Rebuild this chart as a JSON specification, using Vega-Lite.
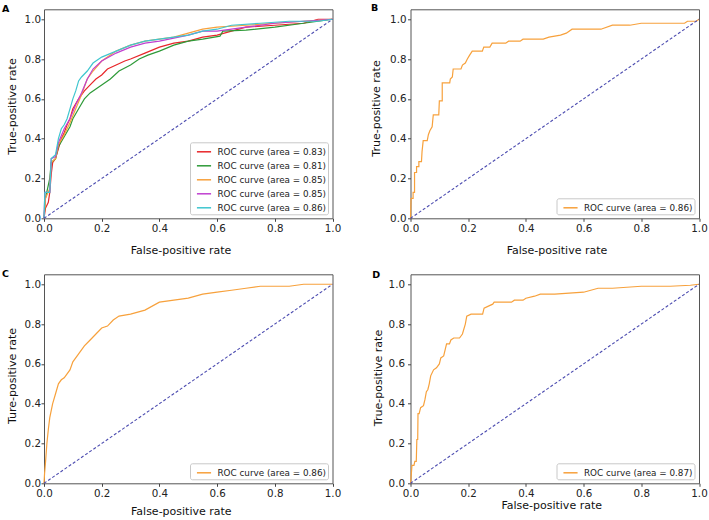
{
  "$schema": "https://vega.github.io/schema/vega-lite/v6.json",
  "autosize": {"type": "none"},
  "padding": {"left": 44, "top": 9.3, "right": 665, "bottom": 510.7},
  "background": "white",
  "config": {
    "font": "DejaVu Sans",
    "view": {"stroke": "#555555", "strokeWidth": 1},
    "axis": {"domain": false, "grid": false, "tickColor": "#444444", "tickSize": 3, "labelFont": "DejaVu Sans", "labelFontSize": 10.3, "labelColor": "#222222", "titleFont": "DejaVu Sans", "titleFontSize": 11, "titleFontWeight": "normal", "titleColor": "#111111", "labelFlush": false},
    "legend": {"orient": "bottom-right", "offset": 4.5, "fillColor": "white", "strokeColor": "#c8c8c8", "cornerRadius": 2, "padding": 1.5, "rowPadding": 1, "symbolSize": 200, "symbolType": "stroke", "symbolStrokeWidth": 1.5, "symbolOffset": 4.5, "labelOffset": 5.5, "labelFont": "DejaVu Sans", "labelFontSize": 8.8, "labelColor": "#222222", "labelLimit": 300}
  },
  "datasets": {
    "diag": [{"fpr": 0, "tpr": 0}, {"fpr": 1, "tpr": 1}],
    "a": [
      {"id": "1", "fpr": 0, "tpr": 0}, {"id": "1", "fpr": 0.005, "tpr": 0.05}, {"id": "1", "fpr": 0.015, "tpr": 0.08}, {"id": "1", "fpr": 0.02, "tpr": 0.13}, {"id": "1", "fpr": 0.025, "tpr": 0.22}, {"id": "1", "fpr": 0.03, "tpr": 0.28}, {"id": "1", "fpr": 0.04, "tpr": 0.3}, {"id": "1", "fpr": 0.05, "tpr": 0.35}, {"id": "1", "fpr": 0.06, "tpr": 0.4}, {"id": "1", "fpr": 0.07, "tpr": 0.43}, {"id": "1", "fpr": 0.08, "tpr": 0.47}, {"id": "1", "fpr": 0.09, "tpr": 0.5}, {"id": "1", "fpr": 0.1, "tpr": 0.55}, {"id": "1", "fpr": 0.12, "tpr": 0.6}, {"id": "1", "fpr": 0.14, "tpr": 0.64}, {"id": "1", "fpr": 0.16, "tpr": 0.67}, {"id": "1", "fpr": 0.18, "tpr": 0.7}, {"id": "1", "fpr": 0.2, "tpr": 0.72}, {"id": "1", "fpr": 0.22, "tpr": 0.75}, {"id": "1", "fpr": 0.25, "tpr": 0.77}, {"id": "1", "fpr": 0.28, "tpr": 0.79}, {"id": "1", "fpr": 0.3, "tpr": 0.8}, {"id": "1", "fpr": 0.35, "tpr": 0.83}, {"id": "1", "fpr": 0.4, "tpr": 0.86}, {"id": "1", "fpr": 0.45, "tpr": 0.88}, {"id": "1", "fpr": 0.5, "tpr": 0.89}, {"id": "1", "fpr": 0.55, "tpr": 0.91}, {"id": "1", "fpr": 0.6, "tpr": 0.92}, {"id": "1", "fpr": 0.65, "tpr": 0.94}, {"id": "1", "fpr": 0.7, "tpr": 0.96}, {"id": "1", "fpr": 0.8, "tpr": 0.97}, {"id": "1", "fpr": 0.9, "tpr": 0.98}, {"id": "1", "fpr": 0.95, "tpr": 1.0}, {"id": "1", "fpr": 1, "tpr": 1},
      {"id": "2", "fpr": 0, "tpr": 0}, {"id": "2", "fpr": 0.005, "tpr": 0.1}, {"id": "2", "fpr": 0.02, "tpr": 0.2}, {"id": "2", "fpr": 0.025, "tpr": 0.28}, {"id": "2", "fpr": 0.04, "tpr": 0.3}, {"id": "2", "fpr": 0.05, "tpr": 0.36}, {"id": "2", "fpr": 0.07, "tpr": 0.41}, {"id": "2", "fpr": 0.09, "tpr": 0.46}, {"id": "2", "fpr": 0.1, "tpr": 0.5}, {"id": "2", "fpr": 0.12, "tpr": 0.55}, {"id": "2", "fpr": 0.14, "tpr": 0.6}, {"id": "2", "fpr": 0.16, "tpr": 0.63}, {"id": "2", "fpr": 0.18, "tpr": 0.65}, {"id": "2", "fpr": 0.2, "tpr": 0.67}, {"id": "2", "fpr": 0.23, "tpr": 0.7}, {"id": "2", "fpr": 0.26, "tpr": 0.74}, {"id": "2", "fpr": 0.3, "tpr": 0.77}, {"id": "2", "fpr": 0.33, "tpr": 0.8}, {"id": "2", "fpr": 0.36, "tpr": 0.82}, {"id": "2", "fpr": 0.4, "tpr": 0.84}, {"id": "2", "fpr": 0.45, "tpr": 0.87}, {"id": "2", "fpr": 0.5, "tpr": 0.89}, {"id": "2", "fpr": 0.55, "tpr": 0.9}, {"id": "2", "fpr": 0.61, "tpr": 0.915}, {"id": "2", "fpr": 0.62, "tpr": 0.94}, {"id": "2", "fpr": 0.7, "tpr": 0.945}, {"id": "2", "fpr": 0.8, "tpr": 0.96}, {"id": "2", "fpr": 0.9, "tpr": 0.98}, {"id": "2", "fpr": 1, "tpr": 1},
      {"id": "3", "fpr": 0, "tpr": 0}, {"id": "3", "fpr": 0.005, "tpr": 0.1}, {"id": "3", "fpr": 0.02, "tpr": 0.15}, {"id": "3", "fpr": 0.025, "tpr": 0.28}, {"id": "3", "fpr": 0.04, "tpr": 0.3}, {"id": "3", "fpr": 0.05, "tpr": 0.37}, {"id": "3", "fpr": 0.07, "tpr": 0.42}, {"id": "3", "fpr": 0.09, "tpr": 0.48}, {"id": "3", "fpr": 0.11, "tpr": 0.55}, {"id": "3", "fpr": 0.13, "tpr": 0.62}, {"id": "3", "fpr": 0.15, "tpr": 0.7}, {"id": "3", "fpr": 0.17, "tpr": 0.74}, {"id": "3", "fpr": 0.2, "tpr": 0.79}, {"id": "3", "fpr": 0.25, "tpr": 0.84}, {"id": "3", "fpr": 0.3, "tpr": 0.87}, {"id": "3", "fpr": 0.35, "tpr": 0.89}, {"id": "3", "fpr": 0.4, "tpr": 0.9}, {"id": "3", "fpr": 0.45, "tpr": 0.91}, {"id": "3", "fpr": 0.5, "tpr": 0.93}, {"id": "3", "fpr": 0.55, "tpr": 0.95}, {"id": "3", "fpr": 0.6, "tpr": 0.96}, {"id": "3", "fpr": 0.7, "tpr": 0.97}, {"id": "3", "fpr": 0.8, "tpr": 0.98}, {"id": "3", "fpr": 0.9, "tpr": 0.99}, {"id": "3", "fpr": 1, "tpr": 1},
      {"id": "4", "fpr": 0, "tpr": 0}, {"id": "4", "fpr": 0.003, "tpr": 0.13}, {"id": "4", "fpr": 0.02, "tpr": 0.13}, {"id": "4", "fpr": 0.025, "tpr": 0.3}, {"id": "4", "fpr": 0.04, "tpr": 0.31}, {"id": "4", "fpr": 0.05, "tpr": 0.38}, {"id": "4", "fpr": 0.07, "tpr": 0.45}, {"id": "4", "fpr": 0.09, "tpr": 0.5}, {"id": "4", "fpr": 0.11, "tpr": 0.57}, {"id": "4", "fpr": 0.13, "tpr": 0.63}, {"id": "4", "fpr": 0.15, "tpr": 0.7}, {"id": "4", "fpr": 0.17, "tpr": 0.75}, {"id": "4", "fpr": 0.2, "tpr": 0.79}, {"id": "4", "fpr": 0.25, "tpr": 0.83}, {"id": "4", "fpr": 0.3, "tpr": 0.86}, {"id": "4", "fpr": 0.35, "tpr": 0.88}, {"id": "4", "fpr": 0.4, "tpr": 0.89}, {"id": "4", "fpr": 0.5, "tpr": 0.92}, {"id": "4", "fpr": 0.55, "tpr": 0.94}, {"id": "4", "fpr": 0.6, "tpr": 0.94}, {"id": "4", "fpr": 0.7, "tpr": 0.96}, {"id": "4", "fpr": 0.8, "tpr": 0.98}, {"id": "4", "fpr": 0.9, "tpr": 0.99}, {"id": "4", "fpr": 1, "tpr": 1},
      {"id": "5", "fpr": 0, "tpr": 0}, {"id": "5", "fpr": 0.003, "tpr": 0.13}, {"id": "5", "fpr": 0.02, "tpr": 0.13}, {"id": "5", "fpr": 0.025, "tpr": 0.3}, {"id": "5", "fpr": 0.04, "tpr": 0.32}, {"id": "5", "fpr": 0.05, "tpr": 0.4}, {"id": "5", "fpr": 0.06, "tpr": 0.45}, {"id": "5", "fpr": 0.07, "tpr": 0.47}, {"id": "5", "fpr": 0.08, "tpr": 0.5}, {"id": "5", "fpr": 0.09, "tpr": 0.55}, {"id": "5", "fpr": 0.1, "tpr": 0.6}, {"id": "5", "fpr": 0.11, "tpr": 0.64}, {"id": "5", "fpr": 0.12, "tpr": 0.69}, {"id": "5", "fpr": 0.13, "tpr": 0.71}, {"id": "5", "fpr": 0.15, "tpr": 0.74}, {"id": "5", "fpr": 0.17, "tpr": 0.78}, {"id": "5", "fpr": 0.2, "tpr": 0.81}, {"id": "5", "fpr": 0.25, "tpr": 0.84}, {"id": "5", "fpr": 0.3, "tpr": 0.87}, {"id": "5", "fpr": 0.35, "tpr": 0.89}, {"id": "5", "fpr": 0.4, "tpr": 0.9}, {"id": "5", "fpr": 0.45, "tpr": 0.91}, {"id": "5", "fpr": 0.5, "tpr": 0.92}, {"id": "5", "fpr": 0.55, "tpr": 0.94}, {"id": "5", "fpr": 0.6, "tpr": 0.95}, {"id": "5", "fpr": 0.65, "tpr": 0.97}, {"id": "5", "fpr": 0.75, "tpr": 0.98}, {"id": "5", "fpr": 0.85, "tpr": 0.99}, {"id": "5", "fpr": 0.95, "tpr": 0.99}, {"id": "5", "fpr": 1, "tpr": 1}
    ],
    "b": [
      {"fpr": 0, "tpr": 0}, {"fpr": 0.002, "tpr": 0.1}, {"fpr": 0.009, "tpr": 0.1}, {"fpr": 0.009, "tpr": 0.13}, {"fpr": 0.014, "tpr": 0.13}, {"fpr": 0.014, "tpr": 0.23}, {"fpr": 0.021, "tpr": 0.23}, {"fpr": 0.021, "tpr": 0.26}, {"fpr": 0.029, "tpr": 0.26}, {"fpr": 0.029, "tpr": 0.285}, {"fpr": 0.038, "tpr": 0.285}, {"fpr": 0.04, "tpr": 0.335}, {"fpr": 0.044, "tpr": 0.39}, {"fpr": 0.058, "tpr": 0.39}, {"fpr": 0.062, "tpr": 0.42}, {"fpr": 0.067, "tpr": 0.44}, {"fpr": 0.075, "tpr": 0.46}, {"fpr": 0.079, "tpr": 0.52}, {"fpr": 0.098, "tpr": 0.52}, {"fpr": 0.1, "tpr": 0.59}, {"fpr": 0.11, "tpr": 0.59}, {"fpr": 0.11, "tpr": 0.68}, {"fpr": 0.136, "tpr": 0.68}, {"fpr": 0.138, "tpr": 0.7}, {"fpr": 0.145, "tpr": 0.71}, {"fpr": 0.148, "tpr": 0.75}, {"fpr": 0.175, "tpr": 0.75}, {"fpr": 0.18, "tpr": 0.77}, {"fpr": 0.19, "tpr": 0.78}, {"fpr": 0.197, "tpr": 0.8}, {"fpr": 0.205, "tpr": 0.82}, {"fpr": 0.214, "tpr": 0.84}, {"fpr": 0.249, "tpr": 0.84}, {"fpr": 0.254, "tpr": 0.86}, {"fpr": 0.275, "tpr": 0.86}, {"fpr": 0.283, "tpr": 0.88}, {"fpr": 0.33, "tpr": 0.88}, {"fpr": 0.34, "tpr": 0.89}, {"fpr": 0.38, "tpr": 0.89}, {"fpr": 0.39, "tpr": 0.9}, {"fpr": 0.46, "tpr": 0.9}, {"fpr": 0.48, "tpr": 0.91}, {"fpr": 0.52, "tpr": 0.92}, {"fpr": 0.54, "tpr": 0.93}, {"fpr": 0.56, "tpr": 0.95}, {"fpr": 0.66, "tpr": 0.95}, {"fpr": 0.7, "tpr": 0.97}, {"fpr": 0.76, "tpr": 0.97}, {"fpr": 0.8, "tpr": 0.98}, {"fpr": 0.95, "tpr": 0.98}, {"fpr": 0.96, "tpr": 0.99}, {"fpr": 0.99, "tpr": 0.99}, {"fpr": 1, "tpr": 1}
    ],
    "c": [
      {"fpr": 0, "tpr": 0}, {"fpr": 0.002, "tpr": 0.05}, {"fpr": 0.005, "tpr": 0.1}, {"fpr": 0.01, "tpr": 0.2}, {"fpr": 0.015, "tpr": 0.27}, {"fpr": 0.02, "tpr": 0.33}, {"fpr": 0.03, "tpr": 0.4}, {"fpr": 0.04, "tpr": 0.45}, {"fpr": 0.05, "tpr": 0.5}, {"fpr": 0.06, "tpr": 0.52}, {"fpr": 0.07, "tpr": 0.53}, {"fpr": 0.08, "tpr": 0.55}, {"fpr": 0.09, "tpr": 0.57}, {"fpr": 0.1, "tpr": 0.61}, {"fpr": 0.12, "tpr": 0.65}, {"fpr": 0.14, "tpr": 0.69}, {"fpr": 0.16, "tpr": 0.72}, {"fpr": 0.18, "tpr": 0.75}, {"fpr": 0.2, "tpr": 0.78}, {"fpr": 0.22, "tpr": 0.79}, {"fpr": 0.24, "tpr": 0.82}, {"fpr": 0.26, "tpr": 0.84}, {"fpr": 0.3, "tpr": 0.85}, {"fpr": 0.35, "tpr": 0.87}, {"fpr": 0.4, "tpr": 0.91}, {"fpr": 0.45, "tpr": 0.92}, {"fpr": 0.5, "tpr": 0.93}, {"fpr": 0.55, "tpr": 0.95}, {"fpr": 0.6, "tpr": 0.96}, {"fpr": 0.65, "tpr": 0.97}, {"fpr": 0.7, "tpr": 0.98}, {"fpr": 0.75, "tpr": 0.99}, {"fpr": 0.85, "tpr": 0.99}, {"fpr": 0.9, "tpr": 1.0}, {"fpr": 1, "tpr": 1}
    ],
    "d": [
      {"fpr": 0, "tpr": 0}, {"fpr": 0.003, "tpr": 0.05}, {"fpr": 0.005, "tpr": 0.09}, {"fpr": 0.012, "tpr": 0.09}, {"fpr": 0.015, "tpr": 0.11}, {"fpr": 0.02, "tpr": 0.11}, {"fpr": 0.022, "tpr": 0.22}, {"fpr": 0.025, "tpr": 0.22}, {"fpr": 0.026, "tpr": 0.35}, {"fpr": 0.03, "tpr": 0.35}, {"fpr": 0.035, "tpr": 0.38}, {"fpr": 0.045, "tpr": 0.39}, {"fpr": 0.05, "tpr": 0.42}, {"fpr": 0.055, "tpr": 0.46}, {"fpr": 0.06, "tpr": 0.47}, {"fpr": 0.065, "tpr": 0.5}, {"fpr": 0.07, "tpr": 0.54}, {"fpr": 0.08, "tpr": 0.57}, {"fpr": 0.09, "tpr": 0.58}, {"fpr": 0.1, "tpr": 0.6}, {"fpr": 0.105, "tpr": 0.63}, {"fpr": 0.115, "tpr": 0.64}, {"fpr": 0.12, "tpr": 0.67}, {"fpr": 0.125, "tpr": 0.7}, {"fpr": 0.135, "tpr": 0.7}, {"fpr": 0.14, "tpr": 0.72}, {"fpr": 0.15, "tpr": 0.73}, {"fpr": 0.17, "tpr": 0.73}, {"fpr": 0.18, "tpr": 0.75}, {"fpr": 0.19, "tpr": 0.8}, {"fpr": 0.195, "tpr": 0.84}, {"fpr": 0.21, "tpr": 0.85}, {"fpr": 0.25, "tpr": 0.85}, {"fpr": 0.255, "tpr": 0.88}, {"fpr": 0.27, "tpr": 0.89}, {"fpr": 0.285, "tpr": 0.9}, {"fpr": 0.29, "tpr": 0.91}, {"fpr": 0.35, "tpr": 0.91}, {"fpr": 0.36, "tpr": 0.92}, {"fpr": 0.39, "tpr": 0.92}, {"fpr": 0.4, "tpr": 0.93}, {"fpr": 0.43, "tpr": 0.94}, {"fpr": 0.45, "tpr": 0.95}, {"fpr": 0.5, "tpr": 0.95}, {"fpr": 0.6, "tpr": 0.96}, {"fpr": 0.65, "tpr": 0.98}, {"fpr": 0.7, "tpr": 0.98}, {"fpr": 0.8, "tpr": 0.99}, {"fpr": 0.9, "tpr": 0.99}, {"fpr": 0.97, "tpr": 0.995}, {"fpr": 1, "tpr": 1}
    ]
  },
  "columns": 2,
  "spacing": {"row": 56, "column": 77.5},
  "bounds": "flush",
  "resolve": {"scale": {"color": "independent"}, "legend": {"color": "independent"}},
  "concat": [
    {
      "width": 288.5, "height": 209,
      "title": {"text": "A", "anchor": "start", "frame": "group", "offset": 0, "dx": -42, "dy": 12.2, "baseline": "alphabetic", "fontSize": 9.5, "fontWeight": "bold", "color": "#000000"},
      "encoding": {
        "x": {"field": "fpr", "type": "quantitative", "scale": {"domain": [0, 1], "nice": false, "zero": false}, "axis": {"title": "False-positive rate", "values": [0, 0.2, 0.4, 0.6, 0.8, 1], "format": ".1f", "labelPadding": 2, "titleX": 136.5, "titleY": 25.7, "titleBaseline": "top", "titleAlign": "center"}},
        "y": {"field": "tpr", "type": "quantitative", "scale": {"domain": [0, 1.05], "nice": false, "zero": false}, "axis": {"title": "True-positive rate", "values": [0, 0.2, 0.4, 0.6, 0.8, 1], "format": ".1f", "labelPadding": 0.5, "titleX": -27, "titleY": 96.7, "titleAngle": 270, "titleBaseline": "bottom", "titleAlign": "center"}}
      },
      "layer": [
        {"data": {"name": "a"}, "mark": {"type": "line", "strokeWidth": 1.2}, "encoding": {"color": {"field": "id", "type": "nominal", "scale": {"domain": ["1", "2", "3", "4", "5"], "range": ["#e8262a", "#2e9a38", "#f7a13c", "#c040d0", "#3fc6cf"]}, "legend": {"title": null, "labelExpr": "['ROC curve (area = 0.83)', 'ROC curve (area = 0.81)', 'ROC curve (area = 0.85)', 'ROC curve (area = 0.85)', 'ROC curve (area = 0.86)'][toNumber(datum.label) - 1]"}}, "order": {"value": null}}},
        {"data": {"name": "diag"}, "mark": {"type": "line", "color": "#4c4cb0", "strokeDash": [3, 2], "strokeWidth": 1.1}, "encoding": {}}
      ]
    },
    {
      "width": 288.5, "height": 209,
      "title": {"text": "B", "anchor": "start", "frame": "group", "offset": 0, "dx": -39.5, "dy": 11, "baseline": "alphabetic", "fontSize": 9.5, "fontWeight": "bold", "color": "#000000"},
      "encoding": {
        "x": {"field": "fpr", "type": "quantitative", "scale": {"domain": [0, 1], "nice": false, "zero": false}, "axis": {"title": "False-positive rate", "values": [0, 0.2, 0.4, 0.6, 0.8, 1], "format": ".1f", "labelPadding": 2, "titleX": 146, "titleY": 25.7, "titleBaseline": "top", "titleAlign": "center"}},
        "y": {"field": "tpr", "type": "quantitative", "scale": {"domain": [0, 1.05], "nice": false, "zero": false}, "axis": {"title": "True-positive rate", "values": [0, 0.2, 0.4, 0.6, 0.8, 1], "format": ".1f", "labelPadding": 1.5, "titleX": -28.7, "titleY": 98.7, "titleAngle": 270, "titleBaseline": "bottom", "titleAlign": "center"}}
      },
      "layer": [
        {"data": {"name": "b"}, "transform": [{"calculate": "'ROC curve (area = 0.86)'", "as": "curve"}], "mark": {"type": "line", "strokeWidth": 1.2}, "encoding": {"color": {"field": "curve", "type": "nominal", "scale": {"range": ["#f7a13c"]}, "legend": {"title": null}}, "order": {"value": null}}},
        {"data": {"name": "diag"}, "mark": {"type": "line", "color": "#4c4cb0", "strokeDash": [3, 2], "strokeWidth": 1.1}, "encoding": {}}
      ]
    },
    {
      "width": 288.5, "height": 209,
      "title": {"text": "C", "anchor": "start", "frame": "group", "offset": 0, "dx": -42, "dy": 12.4, "baseline": "alphabetic", "fontSize": 9.5, "fontWeight": "bold", "color": "#000000"},
      "encoding": {
        "x": {"field": "fpr", "type": "quantitative", "scale": {"domain": [0, 1], "nice": false, "zero": false}, "axis": {"title": "False-positive rate", "values": [0, 0.2, 0.4, 0.6, 0.8, 1], "format": ".1f", "labelPadding": 2, "titleX": 136.8, "titleY": 22.4, "titleBaseline": "top", "titleAlign": "center"}},
        "y": {"field": "tpr", "type": "quantitative", "scale": {"domain": [0, 1.05], "nice": false, "zero": false}, "axis": {"title": "Ture-positive rate", "values": [0, 0.2, 0.4, 0.6, 0.8, 1], "format": ".1f", "labelPadding": 0.5, "titleX": -27, "titleY": 101.2, "titleAngle": 270, "titleBaseline": "bottom", "titleAlign": "center"}}
      },
      "layer": [
        {"data": {"name": "c"}, "transform": [{"calculate": "'ROC curve (area = 0.86)'", "as": "curve"}], "mark": {"type": "line", "strokeWidth": 1.2}, "encoding": {"color": {"field": "curve", "type": "nominal", "scale": {"range": ["#f7a13c"]}, "legend": {"title": null}}, "order": {"value": null}}},
        {"data": {"name": "diag"}, "mark": {"type": "line", "color": "#4c4cb0", "strokeDash": [3, 2], "strokeWidth": 1.1}, "encoding": {}}
      ]
    },
    {
      "width": 288.5, "height": 209,
      "title": {"text": "D", "anchor": "start", "frame": "group", "offset": 0, "dx": -38.3, "dy": 13.4, "baseline": "alphabetic", "fontSize": 9.5, "fontWeight": "bold", "color": "#000000"},
      "encoding": {
        "x": {"field": "fpr", "type": "quantitative", "scale": {"domain": [0, 1], "nice": false, "zero": false}, "axis": {"title": "False-positive rate", "values": [0, 0.2, 0.4, 0.6, 0.8, 1], "format": ".1f", "labelPadding": 2, "titleX": 140.7, "titleY": 16.5, "titleBaseline": "top", "titleAlign": "center"}},
        "y": {"field": "tpr", "type": "quantitative", "scale": {"domain": [0, 1.05], "nice": false, "zero": false}, "axis": {"title": "True-positive rate", "values": [0, 0.2, 0.4, 0.6, 0.8, 1], "format": ".1f", "labelPadding": 3, "titleX": -27, "titleY": 103.2, "titleAngle": 270, "titleBaseline": "bottom", "titleAlign": "center"}}
      },
      "layer": [
        {"data": {"name": "d"}, "transform": [{"calculate": "'ROC curve (area = 0.87)'", "as": "curve"}], "mark": {"type": "line", "strokeWidth": 1.2}, "encoding": {"color": {"field": "curve", "type": "nominal", "scale": {"range": ["#f7a13c"]}, "legend": {"title": null}}, "order": {"value": null}}},
        {"data": {"name": "diag"}, "mark": {"type": "line", "color": "#4c4cb0", "strokeDash": [3, 2], "strokeWidth": 1.1}, "encoding": {}}
      ]
    }
  ]
}
